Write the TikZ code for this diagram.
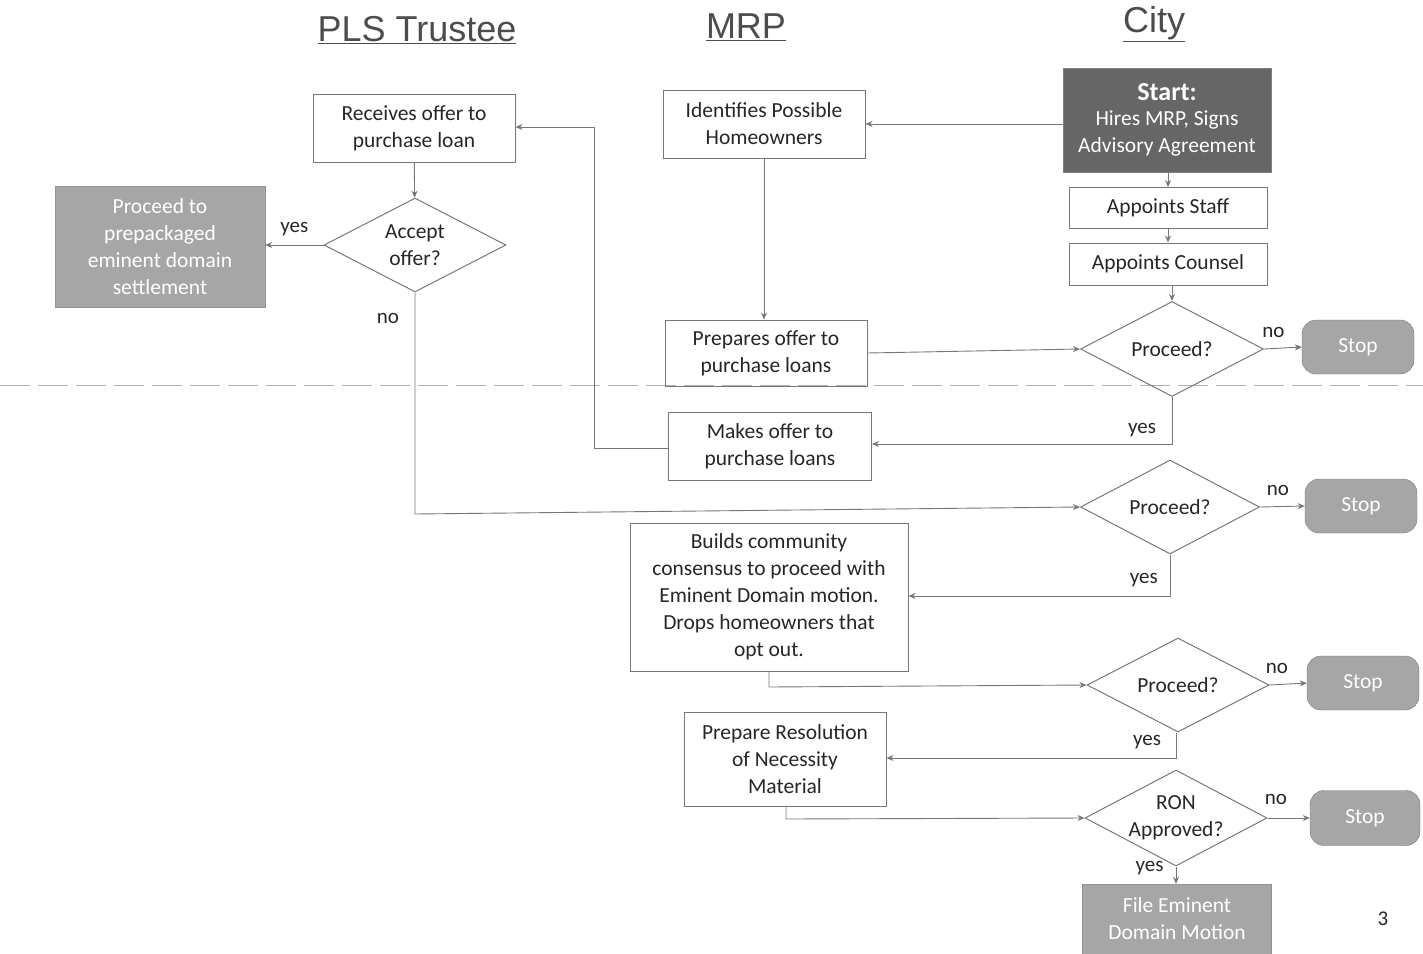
\documentclass[tikz,border=0pt]{standalone}
\usepackage{fontspec}
\setmainfont{Carlito}
\newfontfamily\titlefont{Liberation Sans}
\usetikzlibrary{shapes.geometric,arrows.meta}
\definecolor{edge}{HTML}{777777}
\definecolor{txt}{HTML}{262626}
\definecolor{boxfill}{HTML}{A6A6A6}
\definecolor{startfill}{HTML}{666666}
\tikzset{
  base/.style={font=\fontsize{21.5}{27}\selectfont, text=txt, align=center, inner sep=0pt},
  procbox/.style={base, draw=edge, line width=1pt, rectangle},
  decision/.style={base, draw=edge, line width=1pt, diamond, aspect=1.94, inner sep=-2pt},
  graybox/.style={base, draw=edge!80, fill=boxfill, text=white, rectangle},
  stopbox/.style={base, draw=edge, fill=boxfill, text=white, rectangle, rounded corners=14pt, minimum width=112pt, minimum height=54pt},
  conn/.style={draw=edge, line width=0.9pt, -{Stealth[length=7pt,width=6pt]}},
  lab/.style={font=\fontsize{21}{24}\selectfont, text=txt, inner sep=0pt},
  ttl/.style={font=\titlefont\fontsize{36}{40}\selectfont, text=black!70, inner sep=0pt}
}
\begin{document}
\begin{tikzpicture}[x=1pt,y=-1pt]
\useasboundingbox (0,0) rectangle (1423,953);
% titles
\node[ttl] (t1) at (417,30) {\underline{PLS Trustee}};
\node[ttl] (t2) at (746,27) {\underline{MRP}};
\node[ttl] (t3) at (1154,24) {\underline{City}};
% dashed separator
\coordinate (dl) at (0,385);
\coordinate (dr) at (1423,385);
\draw[black!30, line width=0.8pt, dash pattern=on 30pt off 8pt] (dl) -- (dr);
% nodes
\node[procbox, minimum width=202pt, minimum height=68pt] (recv) at (414,128) {Receives offer to\\purchase loan};
\node[decision, minimum width=182pt, minimum height=94pt] (accept) at (415,245) {Accept\\offer?};
\node[graybox, minimum width=210pt, minimum height=121pt] (pre) at (160,247) {Proceed to\\prepackaged\\eminent domain\\settlement};
\node[procbox, minimum width=202pt, minimum height=68pt] (ident) at (764,124) {Identifies Possible\\Homeowners};
\node[graybox, fill=startfill, draw=black!50, minimum width=208pt, minimum height=104pt] (start) at (1167,120) {{\fontsize{26}{30}\selectfont\bfseries Start:}\\[-2pt]Hires MRP, Signs\\Advisory Agreement};
\node[procbox, minimum width=198pt, minimum height=41pt] (staff) at (1168,208) {Appoints Staff};
\node[procbox, minimum width=198pt, minimum height=42pt] (counsel) at (1168,264) {Appoints Counsel};
\node[procbox, minimum width=202pt, minimum height=66pt] (prep) at (766,353) {Prepares offer to\\purchase loans};
\node[decision, minimum width=183pt, minimum height=95pt] (p1) at (1172,349) {Proceed?};
\node[stopbox] (s1) at (1358,347) {Stop};
\node[procbox, minimum width=203pt, minimum height=68pt] (makes) at (770,446) {Makes offer to\\purchase loans};
\node[decision, minimum width=179pt, minimum height=94pt] (p2) at (1170,507) {Proceed?};
\node[stopbox] (s2) at (1361,506) {Stop};
\node[procbox, minimum width=278pt, minimum height=148pt] (builds) at (769,597) {Builds community\\consensus to proceed with\\Eminent Domain motion.\\Drops homeowners that\\opt out.};
\node[decision, minimum width=182pt, minimum height=94pt] (p3) at (1178,685) {Proceed?};
\node[stopbox] (s3) at (1363,683) {Stop};
\node[procbox, minimum width=202pt, minimum height=94pt] (prepres) at (785,759) {Prepare Resolution\\of Necessity\\Material};
\node[decision, minimum width=182pt, minimum height=96pt] (ron) at (1176,818) {RON\\Approved?};
\node[stopbox, minimum width=110pt, minimum height=55pt] (s4) at (1365,818) {Stop};
\node[graybox, minimum width=189pt, minimum height=70pt] (file) at (1177,919) {File Eminent\\Domain Motion};
\node[lab] (pg) at (1383,919) {3};
% connectors
\draw[conn] (start.west |- ident.east) -- (ident.east);
\draw[conn] (start.south -| staff.north) -- (staff.north);
\draw[conn] (staff) -- (counsel);
\draw[conn] (counsel.south -| p1.north) -- (p1.north);
\draw[conn] (ident) -- (ident |- prep.north);
\draw[conn] (prep.east) -- (p1.west);
\draw[conn] (p1.east) -- node[lab, pos=0.25, above=10pt] {no} (s1.west);
\coordinate (c1) at (1172,444);
\draw[conn] (p1.south) -- (c1) -- node[lab, pos=0.1, above=7pt] {yes} (makes.east |- c1);
\coordinate (c2) at (594,448);
\coordinate (c3) at (594,127);
\draw[conn] (makes.west |- c2) -- (c2) -- (c3) -- (recv.east |- c3);
\draw[conn] (recv) -- (accept);
\draw[conn] (accept.west) -- node[lab, pos=0.5, above=9pt] {yes} (pre.east |- accept.west);
\coordinate (c4) at (415,514);
\coordinate (nolab) at (388,318);
\node[lab] (nol) at (nolab) {no};
\draw[conn] (accept.south) -- (c4) -- (p2.west);
\draw[conn] (p2.east) -- node[lab, pos=0.4, above=11pt] {no} (s2.west);
\coordinate (c5) at (1170,596);
\draw[conn] (p2.south) -- (c5) -- node[lab, pos=0.1, above=9pt] {yes} (builds.east |- c5);
\coordinate (c6) at (769,687);
\draw[conn] (builds.south) -- (c6) -- (p3.west);
\draw[conn] (p3.east) -- node[lab, pos=0.2, above=11pt] {no} (s3.west);
\coordinate (c7) at (1176,758);
\draw[conn] (p3.south -| c7) -- (c7) -- node[lab, pos=0.1, above=9pt] {yes} (prepres.east |- c7);
\coordinate (c8) at (786,819);
\draw[conn] (prepres.south -| c8) -- (c8) -- (ron.west);
\draw[conn] (ron.east) -- node[lab, pos=0.2, above=13pt] {no} (s4.west);
\draw[conn] (ron.south) -- node[lab, pos=0.1, left=12pt] {yes} (file.north -| ron.south);
\end{tikzpicture}
\end{document}
